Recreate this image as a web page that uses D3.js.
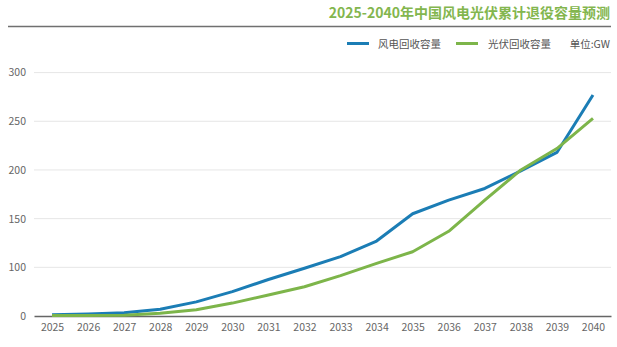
<!DOCTYPE html>
<html><head><meta charset="utf-8">
<script src="https://cdn.jsdelivr.net/npm/d3@7/dist/d3.min.js"></script>
<style>
html,body{margin:0;padding:0;background:#fff;}
text{font-family:"Noto Sans CJK SC","Noto Sans",sans-serif;}
</style></head>
<body><svg id="c" width="617" height="347"></svg>
<script>
const title = "2025-2040年中国风电光伏累计退役容量预测";
const years = ["2025","2026","2027","2028","2029","2030","2031","2032","2033","2034","2035","2036","2037","2038","2039","2040"];
const seriesNames = ["风电回收容量","光伏回收容量"];
const wind  = [2.5, 4, 6.5, 14, 29, 50, 75, 98, 111, 127, 155, 169, 181, 199, 218, 277];
const solar = [1, 1, 1.5, 5.5, 13, 26.5, 43, 60, 83, 104, 116, 137, 169, 200, 222, 253];
const yTicks = [0, 100, 150, 200, 250, 300];
const unitLabel = "单位:GW";
const colors = ["#1b7db5", "#7db54a"];

(function () {
const svg = d3.select("#c");
const pLeft = 34, pRight = 611, pTop = 72.6, pBottom = 316;

// axis as drawn in the source: 0 and 100 are one grid step apart
const y = d3.scaleLinear().domain([0, 100, 300]).range([pBottom, pBottom - (pBottom - pTop) / 5, pTop]);
const x = d3.scalePoint().domain(years).range([pLeft, pRight]).padding(0.5);
const ff = '"Noto Sans CJK SC","Noto Sans",sans-serif';

// title + rule
svg.append("text").attr("x", 610).attr("y", 17.5).attr("text-anchor", "end")
  .attr("font-size", 14).attr("font-weight", 700).attr("fill", "#83b64e").text(title);
svg.append("line").attr("x1", 8).attr("x2", 611).attr("y1", 26.5).attr("y2", 26.5)
  .attr("stroke", "#707070").attr("stroke-width", 1.5);

// grid
svg.append("g").selectAll("line").data(yTicks.filter(d => d > 0)).join("line")
  .attr("x1", pLeft).attr("x2", pRight).attr("y1", d => y(d)).attr("y2", d => y(d))
  .attr("stroke", "#e6e6e6").attr("stroke-width", 1);

// y axis labels
const ya = svg.append("g").attr("transform", `translate(${pLeft},0)`)
  .call(d3.axisLeft(y).tickValues(yTicks).tickSize(0).tickPadding(8));
ya.select(".domain").remove();
ya.selectAll("text").attr("font-size", 10.5).attr("fill", "#666").style("font-family", ff);

// x axis
const xa = svg.append("g").attr("transform", `translate(0,${pBottom})`)
  .call(d3.axisBottom(x).tickSize(0).tickPadding(8));
xa.select(".domain").attr("stroke", "#666").attr("stroke-width", 1.5);
xa.selectAll("text").attr("font-size", 10.5).attr("fill", "#666").style("font-family", ff);

// lines
const line = d3.line().x((d, i) => x(years[i])).y(d => y(d));
[wind, solar].forEach((s, k) => {
  svg.append("path").datum(s).attr("d", line).attr("fill", "none")
    .attr("stroke", colors[k]).attr("stroke-width", 3).attr("stroke-linejoin", "round");
});

// legend
const lg = [{x: 347, tx: 378}, {x: 456, tx: 488}];
seriesNames.forEach((n, k) => {
  svg.append("line").attr("x1", lg[k].x).attr("x2", lg[k].x + 22).attr("y1", 43.5).attr("y2", 43.5)
    .attr("stroke", colors[k]).attr("stroke-width", 3);
  svg.append("text").attr("x", lg[k].tx).attr("y", 47.5).attr("font-size", 10.5).attr("fill", "#555").text(n);
});
svg.append("text").attr("x", 610).attr("y", 47.5).attr("text-anchor", "end")
  .attr("font-size", 10.5).attr("fill", "#555").text(unitLabel);
})();
</script></body></html>
